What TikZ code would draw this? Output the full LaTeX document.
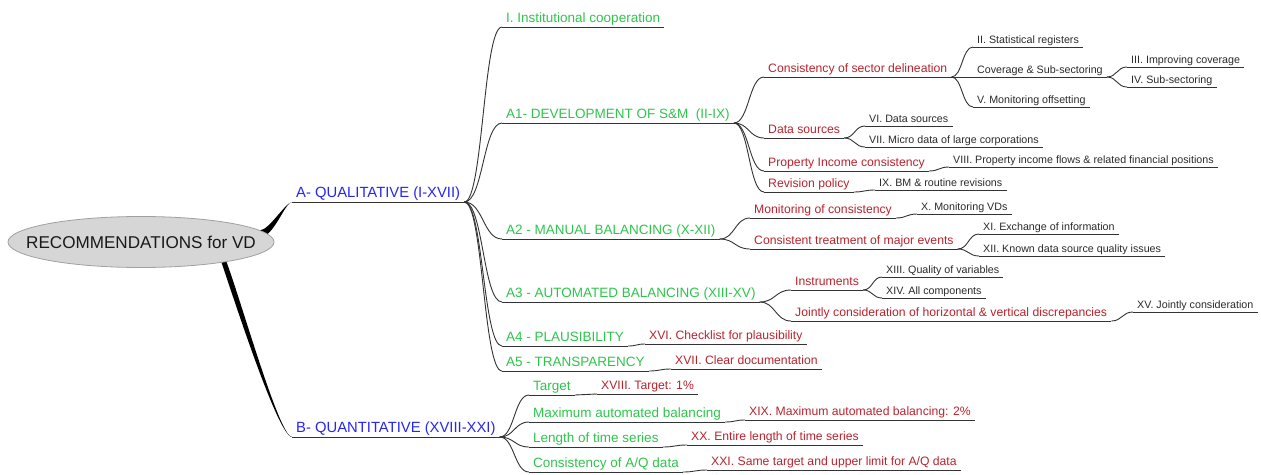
\documentclass[tikz,border=0pt]{standalone}
\usepackage{fontspec}
\setmainfont{Liberation Sans}
\usepackage{xcolor}
\usepackage{tikz}
\usetikzlibrary{shapes.geometric, calc, backgrounds}
\definecolor{bluetext}{HTML}{2626F0}
\definecolor{greentext}{HTML}{2EC44C}
\definecolor{redtext}{HTML}{B8232D}
\definecolor{darktext}{HTML}{2A2A2A}
\definecolor{linegray}{HTML}{333333}
\definecolor{rootfill}{HTML}{D6D6D6}
\definecolor{rootdraw}{HTML}{A0A0A0}

\begin{document}
\begin{tikzpicture}[x=1pt, y=-1pt,
    root/.style={ellipse, fill=rootfill, draw=rootdraw, line width=0.8pt, minimum width=266pt, minimum height=51pt, inner sep=0pt, outer sep=0pt, font=\fontsize{17.1}{19}\selectfont, text=black!90},
    uline/.style={draw=linegray, line width=0.9pt},
    topic/.style={anchor=south west, inner xsep=4pt, inner ysep=1pt, append after command={(\tikzlastnode.south west) edge[uline] (\tikzlastnode.south east)}},
    lvlone/.style={topic, text=bluetext, font=\fontsize{14.8}{16}\selectfont, text depth=3.8pt},
    lvltwo/.style={topic, text=greentext, font=\fontsize{13.5}{15}\selectfont, text depth=3.5pt},
    lvlthree/.style={topic, text=redtext, font=\fontsize{12.2}{14}\selectfont, text depth=3.2pt},
    lvlfour/.style={topic, text=darktext, font=\fontsize{10.7}{12}\selectfont, text depth=2.8pt},
    link/.style={draw=linegray, line width=0.9pt, to path={.. controls ($(\tikztostart)!0.5!(\tikztotarget |- \tikztostart)$) and ($(\tikztotarget)!0.5!(\tikztostart |- \tikztotarget)$) .. (\tikztotarget)}}
]
\useasboundingbox (0,0) rectangle (1261,474);

\node[root] (root) at (141,242) {\makebox[0pt]{RECOMMENDATIONS for VD}};
\node[lvlone] (qual) at (292,202) {A- QUALITATIVE (I-XVII)};
\node[lvlone] (quant) at (292,437) {B- QUANTITATIVE (XVIII-XXI)};

\node[lvltwo] (coop) at (502,27) {I. Institutional cooperation};
\node[lvltwo] (dev) at (502,123) {A1- DEVELOPMENT OF S\&M\ \ (II-IX)};
\node[lvltwo] (manual) at (502,239) {A2 - MANUAL BALANCING (X-XII)};
\node[lvltwo] (auto) at (502,302) {A3 - AUTOMATED BALANCING (XIII-XV)};
\node[lvltwo] (plaus) at (502,346) {A4 - PLAUSIBILITY};
\node[lvltwo] (transp) at (502,371) {A5 - TRANSPARENCY};
\node[lvltwo] (target) at (529,395) {Target};
\node[lvltwo] (maxbal) at (529,422) {Maximum automated balancing};
\node[lvltwo] (length) at (529,447) {Length of time series};
\node[lvltwo] (aqdata) at (529,472) {Consistency of A/Q data};

\node[lvlthree] (sector) at (764,77) {Consistency of sector delineation};
\node[lvlthree] (sources) at (764,138) {Data sources};
\node[lvlthree] (income) at (764,171) {Property Income consistency};
\node[lvlthree] (revision) at (764,192) {Revision policy};
\node[lvlthree] (monitor) at (750,218) {Monitoring of consistency};
\node[lvlthree] (events) at (750,249) {Consistent treatment of major events};
\node[lvlthree] (instr) at (791,290) {Instruments};
\node[lvlthree] (jointly) at (791,321) {Jointly consideration of horizontal \& vertical discrepancies};
\node[lvlthree] (checklist) at (645,344) {XVI. Checklist for plausibility};
\node[lvlthree] (documentation) at (671,369) {XVII. Clear documentation};
\node[lvlthree] (targetval) at (597,394) {XVIII. Target: 1\%};
\node[lvlthree] (maxval) at (745,420) {XIX. Maximum automated balancing: 2\%};
\node[lvlthree] (fulllength) at (687,445) {XX. Entire length of time series};
\node[lvlthree] (samelimit) at (707,470) {XXI. Same target and upper limit for A/Q data};

\node[lvlfour] (registers) at (973,47) {II. Statistical registers};
\node[lvlfour] (coverage) at (973,77) {Coverage \& Sub-sectoring};
\node[lvlfour] (offsetting) at (973,107) {V. Monitoring offsetting};
\node[lvlfour] (improving) at (1127,67) {III. Improving coverage};
\node[lvlfour] (subsect) at (1127,87) {IV. Sub-sectoring};
\node[lvlfour] (datasrc) at (865,126) {VI. Data sources};
\node[lvlfour] (microdata) at (865,147) {VII. Micro data of large corporations};
\node[lvlfour] (flows) at (949,167) {VIII. Property income flows \& related financial positions};
\node[lvlfour] (routine) at (875,190) {IX. BM \& routine revisions};
\node[lvlfour] (vds) at (917,214) {X. Monitoring VDs};
\node[lvlfour] (exchange) at (979,234) {XI. Exchange of information};
\node[lvlfour] (quality) at (979,256) {XII. Known data source quality issues};
\node[lvlfour] (variables) at (882,277) {XIII. Quality of variables};
\node[lvlfour] (components) at (882,298) {XIV. All components};
\node[lvlfour] (jointcons) at (1133,312) {XV. Jointly consideration};

\begin{scope}[on background layer]
\fill[black] ($(root.4)+(-6,4)$) .. controls +(14,0) and +(-7,0) .. (qual.south west) .. controls +(-7,1) and +(9,0) .. ($(root.4)+(-6,-3)$) -- cycle;
\fill[black] ($(root.-14)+(-2,-4)$) .. controls +(12,35) and +(-14,0) .. (quant.south west) .. controls +(-13,0) and +(14,35) .. ($(root.-14)+(3,-4)$) -- cycle;
\end{scope}

\draw[link] (qual.south east) to (coop.south west);
\draw[link] (qual.south east) to (dev.south west);
\draw[link] (qual.south east) to (manual.south west);
\draw[link] (qual.south east) to (auto.south west);
\draw[link] (qual.south east) to (plaus.south west);
\draw[link] (qual.south east) to (transp.south west);
\draw[link] (quant.south east) to (target.south west);
\draw[link] (quant.south east) to (maxbal.south west);
\draw[link] (quant.south east) to (length.south west);
\draw[link] (quant.south east) to (aqdata.south west);

\draw[link] (dev.south east) to (sector.south west);
\draw[link] (dev.south east) to (sources.south west);
\draw[link] (dev.south east) to (income.south west);
\draw[link] (dev.south east) to (revision.south west);
\draw[link] (manual.south east) to (monitor.south west);
\draw[link] (manual.south east) to (events.south west);
\draw[link] (auto.south east) to (instr.south west);
\draw[link] (auto.south east) to (jointly.south west);
\draw[link] (plaus.south east) to (checklist.south west);
\draw[link] (transp.south east) to (documentation.south west);
\draw[link] (target.south east) to (targetval.south west);
\draw[link] (maxbal.south east) to (maxval.south west);
\draw[link] (length.south east) to (fulllength.south west);
\draw[link] (aqdata.south east) to (samelimit.south west);

\draw[link] (sector.south east) to (registers.south west);
\draw[link] (sector.south east) to (coverage.south west);
\draw[link] (sector.south east) to (offsetting.south west);
\draw[link] (coverage.south east) to (improving.south west);
\draw[link] (coverage.south east) to (subsect.south west);
\draw[link] (sources.south east) to (datasrc.south west);
\draw[link] (sources.south east) to (microdata.south west);
\draw[link] (income.south east) to (flows.south west);
\draw[link] (revision.south east) to (routine.south west);
\draw[link] (monitor.south east) to (vds.south west);
\draw[link] (events.south east) to (exchange.south west);
\draw[link] (events.south east) to (quality.south west);
\draw[link] (instr.south east) to (variables.south west);
\draw[link] (instr.south east) to (components.south west);
\draw[link] (jointly.south east) to (jointcons.south west);

\end{tikzpicture}
\end{document}
